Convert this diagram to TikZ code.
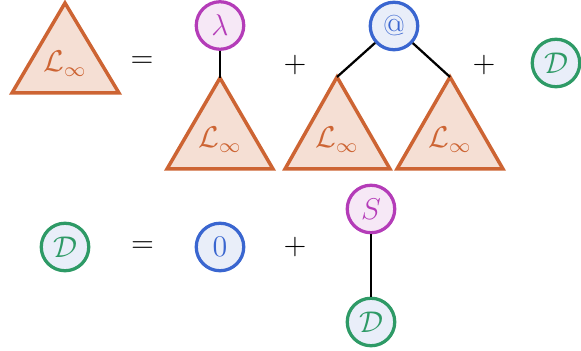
\documentclass[tikz,border=0pt]{standalone}
\usetikzlibrary{shapes.geometric}
\definecolor{orst}{HTML}{CD6433}
\definecolor{orfi}{HTML}{F5DFD4}
\definecolor{pust}{HTML}{B43CB8}
\definecolor{pufi}{HTML}{F6E8F6}
\definecolor{blst}{HTML}{3A66D0}
\definecolor{blfi}{HTML}{E9EEF9}
\definecolor{grst}{HTML}{2E9A66}
\definecolor{grfi}{HTML}{E9EEF9}
\begin{document}
\begin{tikzpicture}[x=0.4pt,y=-0.4pt,
  font=\fontsize{11.5}{14}\selectfont,
  tri/.style={draw=orst,fill=orfi,line width=1.4pt,line join=miter},
  trilabel/.style={text=orst,inner sep=0pt},
  circ/.style={circle,draw=#1st,fill=#1fi,text=#1st,line width=1.3pt,inner sep=0pt,minimum size=19pt},
  edge/.style={draw=black,line width=0.9pt},
  op/.style={inner sep=0pt}]
\useasboundingbox (0,0) rectangle (581,351);
% triangle 1
\coordinate (t1top) at (65,3);
\draw[tri] (t1top) -- (119,93) -- (12,93) -- cycle;
\node[trilabel] (t1l) at (65,64) {$\mathcal{L}_\infty$};
\node[op] (eq1) at (142,62) {$=$};
% lambda branch
\node[circ=pu] (lam) at (220,25.5) {$\lambda$};
\coordinate (t2top) at (220,78);
\draw[tri] (t2top) -- (273,169) -- (167,169) -- cycle;
\node[trilabel] (t2l) at (220,140) {$\mathcal{L}_\infty$};
\draw[edge] (lam) -- (t2top);
\node[op] (pl1) at (295,65) {$+$};
% application
\node[circ=bl] (app) at (394,26) {@};
\coordinate (t3top) at (337,77);
\draw[tri] (t3top) -- (390,169) -- (285,169) -- cycle;
\node[trilabel] (t3l) at (337,140) {$\mathcal{L}_\infty$};
\coordinate (t4top) at (450,77);
\draw[tri] (t4top) -- (503,169) -- (397,169) -- cycle;
\node[trilabel] (t4l) at (450,140) {$\mathcal{L}_\infty$};
\draw[edge] (app) -- (t3top);
\draw[edge] (app) -- (t4top);
\node[op] (pl2) at (484,65) {$+$};
\node[circ=gr] (d1) at (556,63) {$\mathcal{D}$};
% second row
\node[circ=gr] (d2) at (65,247) {$\mathcal{D}$};
\node[op] (eq2) at (142.5,247) {$=$};
\node[circ=bl] (zero) at (220,247) {$0$};
\node[op] (pl3) at (295,247) {$+$};
\node[circ=pu] (succ) at (371,209) {$S$};
\node[circ=gr] (d3) at (371,322) {$\mathcal{D}$};
\draw[edge] (succ) -- (d3);
\end{tikzpicture}
\end{document}
